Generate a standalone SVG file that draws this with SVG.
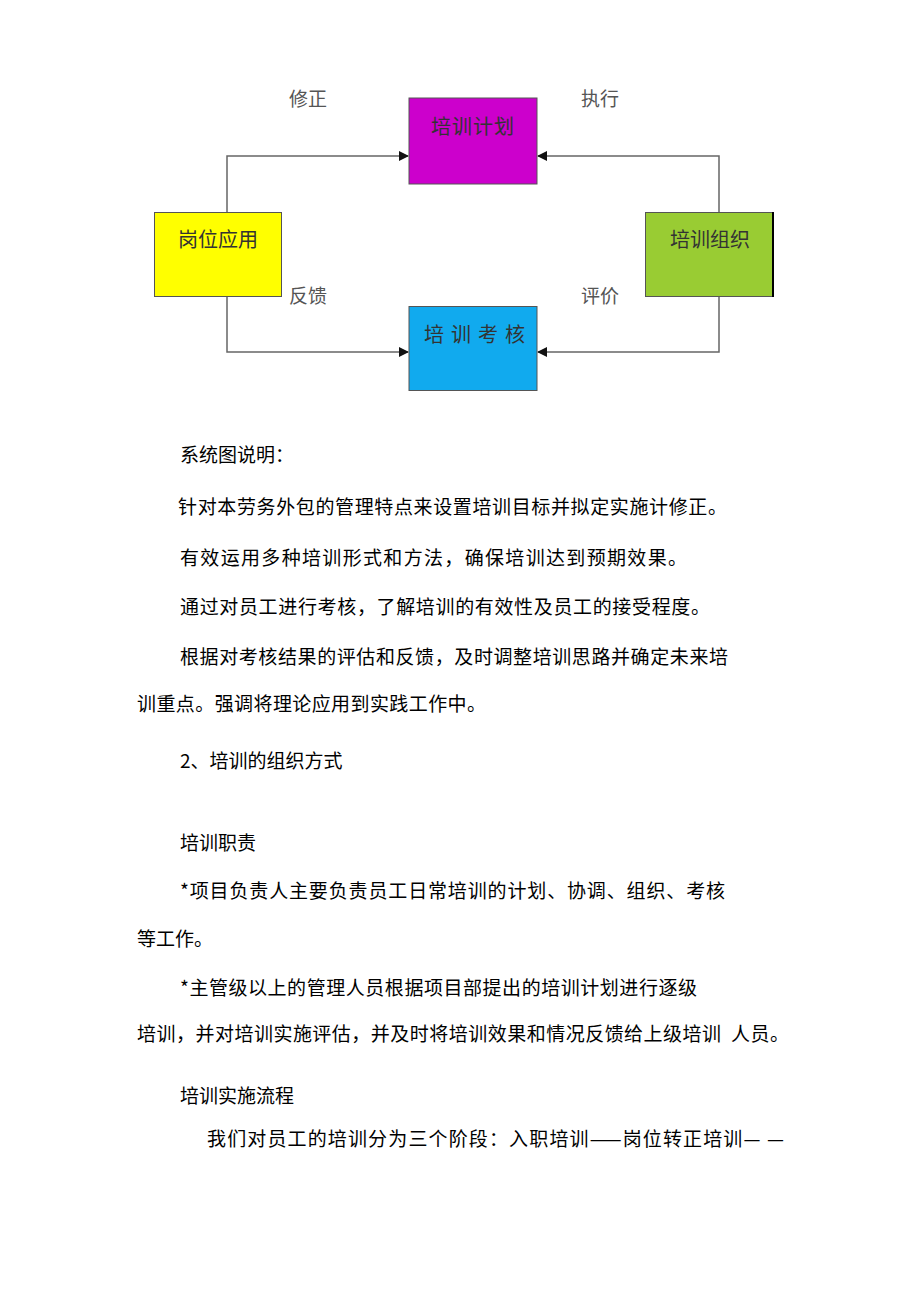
<svg xmlns="http://www.w3.org/2000/svg" width="920" height="1302" viewBox="0 0 920 1302">
<defs>
<style>
.box{stroke:#555;stroke-width:1}
.bt{font-family:"Noto Sans CJK SC","Noto Sans",sans-serif;font-size:20px;fill:#333;text-anchor:middle}
.lbl{font-family:"Noto Sans CJK SC","Noto Sans",sans-serif;font-size:19px;fill:#555}
.tx{font-family:"Noto Sans CJK SC","Liberation Sans",sans-serif;font-size:19px;fill:#000}
.con{fill:none;stroke:#666;stroke-width:1.5}
</style>
<marker id="arr" markerWidth="10" markerHeight="10" refX="9" refY="5" orient="auto" markerUnits="userSpaceOnUse">
<path d="M0,0 L10,5 L0,10 z" fill="#111"/>
</marker>
</defs>
<rect width="920" height="1302" fill="#fff"/>

<g id="connectors">
<path class="con" d="M227,212 V156 H408" marker-end="url(#arr)"/>
<path class="con" d="M719,212 V156 H538" marker-end="url(#arr)"/>
<path class="con" d="M227,297 V352 H408" marker-end="url(#arr)"/>
<path class="con" d="M719,297 V352 H538" marker-end="url(#arr)"/>
</g>

<g id="node-plan">
<rect class="box" x="409" y="98" width="128" height="86" fill="#CC00CC"/>
<text class="bt" x="473" y="134" letter-spacing="1">培训计划</text>
</g>
<g id="node-apply">
<rect class="box" x="154.5" y="212.5" width="127" height="84" fill="#FFFF00"/>
<text class="bt" x="218" y="247">岗位应用</text>
</g>
<g id="node-org">
<rect class="box" x="645.5" y="212.5" width="127" height="84" fill="#99CC33"/>
<line x1="773" y1="212" x2="773" y2="297" stroke="#000" stroke-width="2"/>
<text class="bt" x="710" y="247">培训组织</text>
</g>
<g id="node-exam">
<rect class="box" x="409" y="306.5" width="128" height="84" fill="#11AAEE"/>
<text class="bt" x="478" y="342" letter-spacing="7">培训考核</text>
</g>

<g id="labels">
<text class="lbl" x="289" y="106">修正</text>
<text class="lbl" x="581" y="106">执行</text>
<text class="lbl" x="289" y="303">反馈</text>
<text class="lbl" x="581" y="303">评价</text>
</g>

<g id="body">
<text class="tx" x="180" y="462">系统图说明：</text>
<text class="tx" x="178" y="514" textLength="549" lengthAdjust="spacing">针对本劳务外包的管理特点来设置培训目标并拟定实施计修正。</text>
<text class="tx" x="180" y="565" textLength="507" lengthAdjust="spacing">有效运用多种培训形式和方法，确保培训达到预期效果。</text>
<text class="tx" x="180" y="614" textLength="530" lengthAdjust="spacing">通过对员工进行考核，了解培训的有效性及员工的接受程度。</text>
<text class="tx" x="180" y="664" textLength="548" lengthAdjust="spacing">根据对考核结果的评估和反馈，及时调整培训思路并确定未来培</text>
<text class="tx" x="137" y="711" textLength="349" lengthAdjust="spacing">训重点。强调将理论应用到实践工作中。</text>
<text class="tx" x="180" y="768">2、培训的组织方式</text>
<text class="tx" x="180" y="850">培训职责</text>
<text class="tx" x="180" y="898" textLength="545" lengthAdjust="spacing">*项目负责人主要负责员工日常培训的计划、协调、组织、考核</text>
<text class="tx" x="137" y="946">等工作。</text>
<text class="tx" x="180" y="995" textLength="517" lengthAdjust="spacing">*主管级以上的管理人员根据项目部提出的培训计划进行逐级</text>
<text class="tx" x="137" y="1041" textLength="652" lengthAdjust="spacing" xml:space="preserve">培训，并对培训实施评估，并及时将培训效果和情况反馈给上级培训  人员。</text>
<text class="tx" x="180" y="1103">培训实施流程</text>
<text class="tx" x="207" y="1146" textLength="577" lengthAdjust="spacing" xml:space="preserve">我们对员工的培训分为三个阶段：入职培训——岗位转正培训— —</text>
</g>
</svg>
